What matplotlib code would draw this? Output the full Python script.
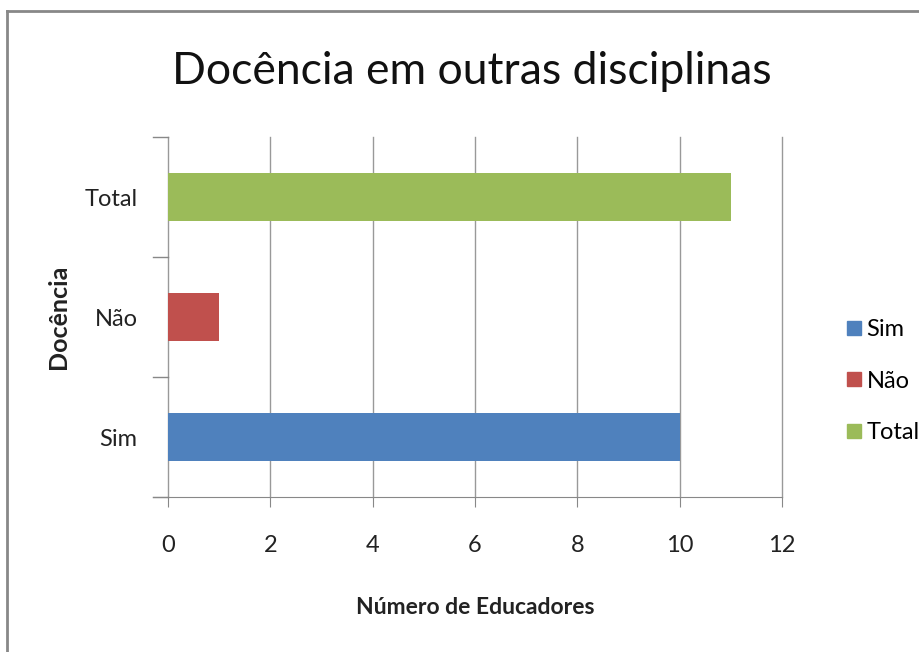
import matplotlib
matplotlib.use("Agg")
import matplotlib.pyplot as plt
from matplotlib.lines import Line2D

categories = ["Sim", "Não", "Total"]
values = [10, 1, 11]
colors = ["#4F81BD", "#C0504D", "#9BBB59"]
xticks = [0, 2, 4, 6, 8, 10, 12]

plt.rcParams['font.family'] = ['Lato', 'DejaVu Sans']

fig = plt.figure(figsize=(9.2, 6.52), dpi=100)
ax = fig.add_axes([168/920, 1-497/652, (782-168)/920, (497-137)/652])

ypos = list(range(len(categories)))
ax.barh(ypos, values, height=0.4, color=colors, zorder=3)
ax.set_xlim(0, 12)
ax.set_ylim(-0.5, 2.5)
ax.set_xticks(xticks)
ax.set_xticklabels([str(t) for t in xticks], fontsize=17, color="#222222")
ax.set_yticks(ypos)
ax.set_yticklabels(categories, fontsize=17, color="#222222")
ax.tick_params(axis='y', length=0, pad=22)
ax.tick_params(axis='x', length=7, color="#888888", pad=20)
for yb in [-0.5, 0.5, 1.5, 2.5]:
    ax.plot([-0.3, 0], [yb, yb], color="#888888", lw=1, clip_on=False, zorder=4)
for xt in xticks:
    ax.axvline(xt, color="#999999", lw=1, zorder=0, clip_on=False)
for s in ['top', 'right', 'left']:
    ax.spines[s].set_visible(False)
ax.spines['bottom'].set_color("#888888")
ax.spines['bottom'].set_bounds(-0.3, 12)

ax.set_xlabel("Número de Educadores", fontsize=16.5, fontweight='bold', labelpad=30, color="#222222")
fig.text(59/920, 1-317/652, "Docência", rotation=90, fontsize=18, fontweight='bold',
         ha='center', va='center', color="#222222")

fig.text(472/920, 1-72/652, "Docência em outras disciplinas", fontsize=32,
         ha='center', va='center', color="#111111")

handles = [Line2D([0], [0], marker='s', color='none', markerfacecolor=c, markeredgecolor=c,
                  markersize=10) for c in colors]
fig.legend(handles, categories, loc='center left', bbox_to_anchor=(823/920, 1-381/652),
           frameon=False, fontsize=17, handlelength=0.8, handletextpad=0.15, labelspacing=1.3)

fig.add_artist(Line2D([7/920, 1], [1-11/652, 1-11/652], transform=fig.transFigure,
                      color="#888888", lw=2))
fig.add_artist(Line2D([7/920, 7/920], [0, 1-11/652], transform=fig.transFigure,
                      color="#888888", lw=2))

fig.savefig("out.png", dpi=100)
